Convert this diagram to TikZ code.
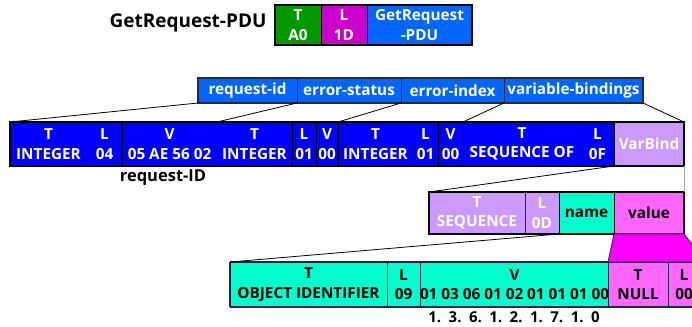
\documentclass[tikz,border=0pt]{standalone}
\usepackage{fontspec}
\setmainfont{Open Sans}
\usetikzlibrary{backgrounds}
\definecolor{cgreen}{HTML}{009900}
\definecolor{cmag}{HTML}{CC00CC}
\definecolor{cblue}{HTML}{0066FF}
\definecolor{cdblue}{HTML}{0000FF}
\definecolor{clav}{HTML}{CC99FF}
\definecolor{ccyan}{HTML}{00FFCC}
\definecolor{cpink}{HTML}{FF66FF}
\definecolor{cmagenta}{HTML}{FF00FF}
\definecolor{trapgray}{HTML}{F0F0F0}
\definecolor{trapgrayb}{HTML}{E8E6EA}
\definecolor{navy}{HTML}{1F2A48}
\tikzset{
  cell/.style={draw=black, line width=0.8pt, inner sep=0pt, outer sep=0pt,
    anchor=north west, align=center, text=white,
    font=\fontsize{15.3}{19.5}\selectfont\bfseries},
  darktext/.style={text=black},
  trap/.style={fill=trapgray},
  edge/.style={draw=black, line width=0.8pt},
  outer/.style={draw=black, line width=1.6pt},
  lbl/.style={inner sep=0pt, font=\bfseries},
}
\newcommand\mkcell[7][]{\node[cell,#1,minimum width={(#5-#3)*1pt},minimum height={(#6-#4)*1pt}] (#2) at (#3,#4) {#7};}
\newcommand\oidsp{\hspace{7.5pt}}
\begin{document}
\begin{tikzpicture}[x=1pt,y=-1pt]
\clip (0,0) rectangle (692,326);
\fill[white] (0,0) rectangle (692,326);
% row 1
\node[lbl, font=\fontsize{19}{21}\selectfont\bfseries] (title) at (188,23) {GetRequest-PDU};
\mkcell[fill=cgreen]{a1}{275}{5}{321}{45}{T\\A0}
\mkcell[fill=cmag]{a2}{321}{5}{367}{45}{L\\1D}
\mkcell[fill=cblue]{a3}{367}{5}{472}{45}{GetRequest\\-PDU}
\draw[outer, line width=2pt] (a1.north west) rectangle (a3.south east);
% row 2
\mkcell[fill=cblue,draw=navy]{b1}{198}{78}{297}{103}{request-id}
\mkcell[fill=cblue,draw=navy]{b2}{297}{78}{401}{103}{error-status}
\mkcell[fill=cblue,draw=navy]{b3}{401}{78}{504}{103}{error-index}
\mkcell[fill=cblue,draw=navy]{b4}{504}{78}{643}{103}{variable-bindings}
\draw[draw=navy, line width=1.4pt] (b1.north west) rectangle (b4.south east);
% row 3
\mkcell[fill=cdblue]{c1}{10}{122}{87}{166}{T\\INTEGER}
\mkcell[fill=cdblue]{c2}{87}{122}{122}{166}{L\\04}
\mkcell[fill=cdblue]{c3}{122}{122}{217}{166}{V\\05 AE 56 02}
\mkcell[fill=cdblue]{c4}{217}{122}{292}{166}{T\\INTEGER}
\mkcell[fill=cdblue]{c5}{292}{122}{316}{166}{L\\01}
\mkcell[fill=cdblue]{c6}{316}{122}{338}{166}{V\\00}
\mkcell[fill=cdblue]{c7}{338}{122}{413}{166}{T\\INTEGER}
\mkcell[fill=cdblue]{c8}{413}{122}{438}{166}{L\\01}
\mkcell[fill=cdblue]{c9}{438}{122}{463}{166}{V\\00}
\mkcell[fill=cdblue]{c10}{463}{122}{581}{166}{T\\SEQUENCE OF}
\mkcell[fill=cdblue]{c11}{581}{122}{614}{166}{L\\0F}
\mkcell[fill=clav]{c12}{614}{122}{684}{166}{VarBind}
\draw[outer] (c1.north west) rectangle (c12.south east);
\node[lbl, font=\fontsize{16.5}{18}\selectfont\bfseries] (reqid) at (163,178) {request-ID};
% row 4
\mkcell[fill=clav,draw=navy]{d1}{429}{192}{525}{234}{T\\SEQUENCE}
\mkcell[fill=clav,draw=navy]{d2}{525}{192}{559}{234}{L\\0D}
\mkcell[fill=ccyan,darktext]{d3}{559}{192}{614}{234}{name}
\mkcell[fill=cpink,darktext]{d4}{614}{192}{684}{234}{value}
\draw[outer, line width=2pt] (d1.north west) rectangle (d4.south east);
% row 5
\mkcell[fill=ccyan,darktext,draw=navy]{e1}{230}{262}{387}{307}{T\\OBJECT IDENTIFIER}
\mkcell[fill=ccyan,darktext,draw=navy]{e2}{387}{262}{420}{307}{L\\09}
\mkcell[fill=ccyan,darktext,draw=navy]{e3}{420}{262}{608}{307}{V\\01 03 06 01 02 01 01 01 00}
\mkcell[fill=cpink,darktext,draw=navy]{e4}{608}{262}{668}{307}{T\\NULL}
\mkcell[fill=cpink,darktext,draw=navy]{e5}{668}{262}{700}{307}{L\\00}
\draw[draw=navy, line width=1.4pt] (e1.north west) -- (e5.north east) (e1.south west) -- (e5.south east) (e1.north west) -- (e1.south west);
\node[lbl, font=\fontsize{15}{16}\selectfont\bfseries] (oid) at (514,317) {1.\oidsp3.\oidsp6.\oidsp1.\oidsp2.\oidsp1.\oidsp7.\oidsp1.\oidsp0};
% trapezoids
\begin{pgfonlayer}{background}
\fill[trap] (a3.south west) -- (a3.south east) -- (b4.north east) -- (b1.north west) -- cycle;
\fill[trap] (b1.south west) -- (b1.south east) -- (c3.north east) -- (c1.north west) -- cycle;
\fill[trap] (b2.south west) -- (b2.south east) -- (c6.north east) -- (c4.north west) -- cycle;
\fill[trap] (b3.south west) -- (b3.south east) -- (c9.north east) -- (c7.north west) -- cycle;
\fill[trap] (b4.south west) -- (b4.south east) -- (c12.north east) -- (c10.north west) -- cycle;
\fill[trapgrayb] (c12.south west) -- (c12.south east) -- (d4.north east) -- (d1.north west) -- cycle;
\fill[trap] (d3.south west) -- (d3.south east) -- (e3.north east) -- (e1.north west) -- cycle;
\end{pgfonlayer}
\draw[edge] (b1.south west) -- (c1.north west);
\draw[edge] (b1.south east) -- (c3.north east);
\draw[edge] (b2.south east) -- (c6.north east);
\draw[edge] (b3.south east) -- (c9.north east);
\draw[edge] (b4.south east) -- (c12.north east);
\draw[edge] (c12.south west) -- (d1.north west);
\draw[draw=gray!70, line width=0.8pt] (c12.south east) -- (d4.north east);
\draw[edge] (d3.south west) -- (e1.north west);
\draw[fill=cmagenta, draw=navy, line width=0.8pt] (d4.south west) -- (d4.south east) -- (706,262) -- (e4.north west) -- cycle;
\end{tikzpicture}
\end{document}
